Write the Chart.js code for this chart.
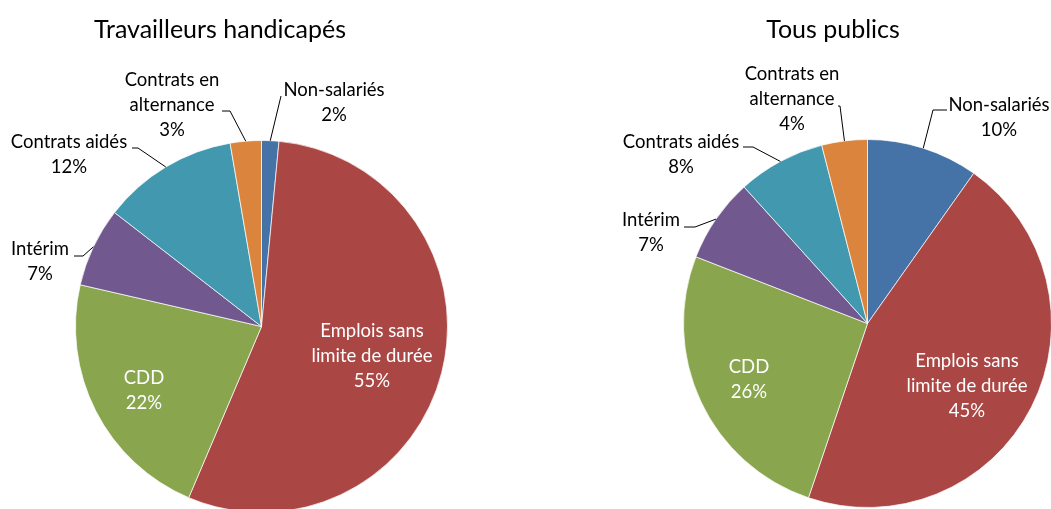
<!DOCTYPE html>
<html>
<head>
<meta charset="utf-8">
<script src="https://cdn.jsdelivr.net/npm/chart.js@4.4.1/dist/chart.umd.min.js"></script>
<style>
  html, body { margin: 0; padding: 0; background: #fff; }
  body { width: 1051px; height: 509px; position: relative; overflow: hidden; }
  canvas { position: absolute; top: 0; }
  #chartLeft { left: 0; }
  #chartRight { left: 525px; }
</style>
</head>
<body>
<canvas id="chartLeft" width="525" height="520"></canvas>
<canvas id="chartRight" width="560" height="520"></canvas>
<script>
/* Two pies: job types, disabled workers vs all */

const categories = ['Non-salariés', 'Emplois sans limite de durée', 'CDD', 'Intérim', 'Contrats aidés', 'Contrats en alternance'];
const labelLines = [['Non-salariés'], ['Emplois sans', 'limite de durée'], ['CDD'], ['Intérim'], ['Contrats aidés'], ['Contrats en', 'alternance']];
const handicapesValues = [1.5, 54.9, 22.2, 6.9, 11.8, 2.7];
const tousPublicsValues = [9.8, 45.4, 25.7, 7.4, 7.7, 4.0];
const sliceColors = ['#4572A7', '#AA4643', '#89A54E', '#71588F', '#4198AF', '#DB843D'];

const FONT = 'Lato, "Open Sans", sans-serif';

const pieLabels = {
  id: 'pieLabels',
  afterDatasetsDraw(chart, args, opts) {
    const ctx = chart.ctx;
    const ds = chart.data.datasets[0];
    const total = ds.data.reduce((a, b) => a + b, 0);
    const meta = chart.getDatasetMeta(0);
    ctx.save();
    ctx.textAlign = 'center';
    ctx.textBaseline = 'middle';
    ctx.strokeStyle = '#000';
    ctx.lineWidth = 1;
    ctx.font = `${opts.fontSize}px ${FONT}`;
    meta.data.forEach((arc, i) => {
      const p = opts.places[i];
      const lines = [...labelLines[i], Math.round(ds.data[i] / total * 100) + '%'];
      if (p.leader) {
        const mid = (arc.startAngle + arc.endAngle) / 2;
        ctx.beginPath();
        ctx.moveTo(arc.x + Math.cos(mid) * arc.outerRadius, arc.y + Math.sin(mid) * arc.outerRadius);
        p.leader.forEach(([x, y]) => ctx.lineTo(x, y));
        ctx.stroke();
      }
      ctx.fillStyle = p.leader ? '#000' : '#fff';
      lines.forEach((t, k) => ctx.fillText(t, p.x, p.y + k * opts.lineHeight));
    });
    ctx.fillStyle = '#000';
    ctx.font = `${opts.titleSize}px ${FONT}`;
    ctx.fillText(opts.title, opts.titleX, opts.titleY);
    ctx.restore();
  }
};

function makePie(id, values, padding, labelOpts) {
  return new Chart(document.getElementById(id), {
    type: 'pie',
    data: {
      labels: categories,
      datasets: [{
        data: values,
        backgroundColor: sliceColors,
        borderColor: 'rgba(255,255,255,0.7)',
        borderWidth: 1,
      }]
    },
    options: {
      responsive: false,
      animation: false,
      layout: { padding },
      plugins: {
        legend: { display: false },
        title: { display: false },
        tooltip: { enabled: false },
        pieLabels: labelOpts
      }
    },
    plugins: [pieLabels]
  });
}

makePie('chartLeft', handicapesValues,
  { left: 75, right: 77, top: 140, bottom: 7 },
  {
    title: 'Travailleurs handicapés', titleX: 220, titleY: 30, titleSize: 25,
    fontSize: 18.5, lineHeight: 25,
    places: [
      { x: 334, y: 90, leader: [[281, 96]] },
      { x: 372, y: 331 },
      { x: 144, y: 378 },
      { x: 40, y: 249, leader: [[83, 256], [74, 256]] },
      { x: 69, y: 142, leader: [[138, 148], [132, 148]] },
      { x: 172, y: 80, leader: [[230, 111], [222, 111]] },
    ]
  });

makePie('chartRight', tousPublicsValues,
  { left: 158, right: 33, top: 139, bottom: 12 },
  {
    title: 'Tous publics', titleX: 308, titleY: 30, titleSize: 25,
    fontSize: 18.5, lineHeight: 25,
    places: [
      { x: 474, y: 105, leader: [[408, 110], [422, 110]] },
      { x: 442, y: 361 },
      { x: 224, y: 367 },
      { x: 126, y: 220, leader: [[170, 227], [159, 227]] },
      { x: 156, y: 142, leader: [[228, 147], [218, 147]] },
      { x: 267, y: 74, leader: [[315, 106], [313, 106]] },
    ]
  });
</script>
</body>
</html>
